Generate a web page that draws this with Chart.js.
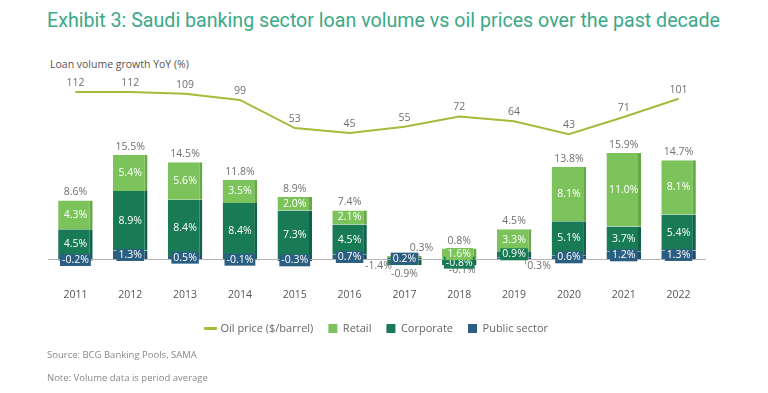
<!DOCTYPE html>
<html>
<head>
<meta charset="utf-8">
<script src="https://cdn.jsdelivr.net/npm/chart.js@4.4.1/dist/chart.umd.min.js"></script>
<style>
  body { margin: 0; background: #fff; width: 768px; height: 393px; overflow: hidden; position: relative; font-family: "Open Sans", sans-serif; }
  #title { position: absolute; left: 47px; top: 8px; font-family: Roboto, sans-serif; font-size: 21px; color: #3aa987; white-space: nowrap; transform-origin: left top; }
  #sub { position: absolute; left: 50px; top: 57px; font-size: 10.5px; color: #555; }
  #wrap { position: absolute; left: 0; top: 70px; width: 768px; height: 283px; }
  .foot { position: absolute; left: 47px; font-size: 9.5px; color: #888; }
</style>
</head>
<body>
<div id="title">Exhibit 3: Saudi banking sector loan volume vs oil prices over the past decade</div>
<div id="sub">Loan volume growth YoY (%)</div>
<div id="wrap"><canvas id="chart"></canvas></div>
<div class="foot" style="top:348px">Source: BCG Banking Pools, SAMA</div>
<div class="foot" style="top:371px">Note: Volume data is period average</div>

<script>
// ===== Data =====
const years = ['2011', '2012', '2013', '2014', '2015', '2016', '2017', '2018', '2019', '2020', '2021', '2022'];
const oilPrice = [112, 112, 109, 99, 53, 45, 55, 72, 64, 43, 71, 101];
const publicSector = [-0.2, 1.3, 0.5, -0.1, -0.3, 0.7, 0.2, -0.1, 0.3, 0.6, 1.2, 1.3];
const corporate = [4.5, 8.9, 8.4, 8.4, 7.3, 4.5, -0.9, -0.8, 0.9, 5.1, 3.7, 5.4];
const retail = [4.3, 5.4, 5.6, 3.5, 2.0, 2.1, 0.3, 1.6, 3.3, 8.1, 11.0, 8.1];
const totalGrowth = [8.6, 15.5, 14.5, 11.8, 8.9, 7.4, -1.4, 0.8, 4.5, 13.8, 15.9, 14.7];

// Colours
const C_OIL = '#aab83c';
const C_RETAIL = '#7dc35c', C_RETAIL_D = '#68a849';
const C_CORP = '#197a56', C_CORP_D = '#10634a';
const C_PUB = '#2b5f82', C_PUB_D = '#1f4a68';
const C_TEXT = '#707070';

// fit title width like the original
const titleEl = document.getElementById('title');
titleEl.style.transform = `scaleX(${673 / titleEl.getBoundingClientRect().width})`;

// labels that sit outside the small bars (offsets from bar centre / zero line)
const labelTweaks = {
    '2:6': { dx: 0, dy: 15, color: C_TEXT },                         // corporate 2017
    '3:6': { dx: 17, dy: -11, color: C_TEXT, leader: [14, -6, -1] }, // retail 2017
    '1:7': { dx: 3, dy: 11, color: C_TEXT },                         // public 2018
    '1:8': { dx: 25, dy: 7, color: C_TEXT, leader: [11, 1, 5] }      // public 2019
};
const totalTweaks = { 6: { dx: -26, dy: 7 } };

const fmt = v => v.toFixed(1) + '%';

// Draw value labels
const valueLabels = {
    id: 'valueLabels',
    afterDatasetsDraw(chart) {
        const ctx = chart.ctx;
        const y0 = chart.scales.y.getPixelForValue(0);
        const area = chart.chartArea;

        // zero line
        ctx.save();
        ctx.strokeStyle = '#b5b5b5';
        ctx.lineWidth = 1;
        ctx.beginPath();
        ctx.moveTo(area.left, Math.round(y0) + 0.5);
        ctx.lineTo(area.right, Math.round(y0) + 0.5);
        ctx.stroke();

        ctx.font = '10.5px "Open Sans"';
        ctx.textAlign = 'center';
        ctx.textBaseline = 'middle';

        // bar segment labels
        [1, 2, 3].forEach(di => {
            const ds = chart.data.datasets[di];
            chart.getDatasetMeta(di).data.forEach((el, i) => {
                const v = ds.data[i];
                const txt = fmt(v);
                const tw = labelTweaks[di + ':' + i];
                if (tw) {
                    ctx.fillStyle = tw.color;
                    ctx.fillText(txt, el.x + tw.dx, y0 + tw.dy);
                    if (tw.leader) {
                        ctx.strokeStyle = '#999';
                        ctx.beginPath();
                        ctx.moveTo(el.x + tw.leader[0] + 0.5, y0 + tw.leader[1]);
                        ctx.lineTo(el.x + tw.leader[0] + 0.5, y0 + tw.leader[2]);
                        ctx.stroke();
                    }
                    return;
                }
                const cy = (el.y + el.base) / 2;
                const h = Math.abs(el.base - el.y);
                if (h < 12) {
                    const w = ctx.measureText(txt).width + 4;
                    ctx.fillStyle = ds.backgroundColor;
                    ctx.fillRect(el.x - w / 2, cy - 6, w, 12);
                }
                ctx.fillStyle = '#fff';
                ctx.fillText(txt, el.x, cy);
            });
        });

        // totals
        ctx.fillStyle = C_TEXT;
        totalGrowth.forEach((t, i) => {
            let top = y0;
            [1, 2, 3].forEach(di => {
                const el = chart.getDatasetMeta(di).data[i];
                top = Math.min(top, el.y, el.base);
            });
            const x = chart.getDatasetMeta(1).data[i].x;
            const tw = totalTweaks[i];
            if (tw) ctx.fillText(fmt(t), x + tw.dx, y0 + tw.dy);
            else ctx.fillText(fmt(t), x, top - 8);
        });

        // oil price labels
        chart.getDatasetMeta(0).data.forEach((pt, i) => {
            ctx.fillText(String(oilPrice[i]), pt.x, pt.y - 9);
        });
        ctx.restore();
    }
};

const barStyle = (bg, edge) => ({
    backgroundColor: bg,
    borderColor: edge,
    borderWidth: { top: 0, right: 3, bottom: 0, left: 0 },
    borderSkipped: false,
    yAxisID: 'y',
    stack: 'loans',
    order: 1,
    barPercentage: 0.63,
    categoryPercentage: 1
});

new Chart(document.getElementById('chart'), {
    data: {
        labels: years,
        datasets: [
            {
                type: 'line', label: 'Oil price ($/barrel)', data: oilPrice,
                borderColor: C_OIL, backgroundColor: C_OIL, borderWidth: 2,
                pointRadius: 0, tension: 0, yAxisID: 'y2', order: 0
            },
            { type: 'bar', label: 'Public sector', data: publicSector, ...barStyle(C_PUB, C_PUB_D) },
            { type: 'bar', label: 'Corporate', data: corporate, ...barStyle(C_CORP, C_CORP_D) },
            { type: 'bar', label: 'Retail', data: retail, ...barStyle(C_RETAIL, C_RETAIL_D) }
        ]
    },
    options: {
        responsive: true,
        maintainAspectRatio: false,
        animation: false,
        layout: { padding: { left: 48, right: 62, top: 10, bottom: 9 } },
        scales: {
            x: {
                stacked: true,
                grid: { display: false, drawTicks: false },
                border: { display: false },
                ticks: { color: '#555', font: { size: 10.5, family: 'Open Sans' }, padding: 5 },
                afterFit(scale) { scale.height += 2; }
            },
            y: { stacked: true, display: false, min: -3.6, max: 26.8 },
            y2: { display: false, min: -201.6, max: 131.7 }
        },
        plugins: {
            tooltip: { enabled: false },
            legend: {
                position: 'bottom',
                labels: {
                    color: '#666',
                    font: { size: 11, family: 'Open Sans' },
                    usePointStyle: true,
                    boxWidth: 9, boxHeight: 9,
                    padding: 15,
                    generateLabels(chart) {
                        const ds = chart.data.datasets;
                        const item = (i, style) => ({
                            text: ds[i].label, datasetIndex: i, pointStyle: style,
                            fillStyle: ds[i].type === 'line' ? ds[i].borderColor : ds[i].backgroundColor,
                            strokeStyle: ds[i].type === 'line' ? ds[i].borderColor : ds[i].backgroundColor,
                            lineWidth: style === 'line' ? 3 : 0, fontColor: '#666', hidden: false
                        });
                        return [item(0, 'line'), item(3, 'rect'), item(2, 'rect'), item(1, 'rect')];
                    }
                }
            }
        }
    },
    plugins: [valueLabels]
});
</script>
</body>
</html>
